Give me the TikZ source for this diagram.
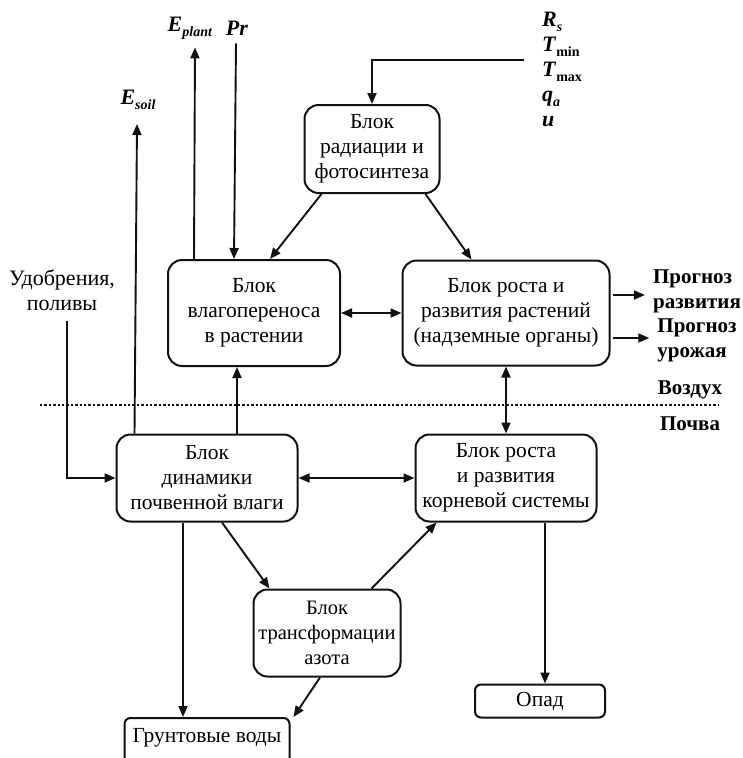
\documentclass[tikz,border=0pt]{standalone}
\usepackage{fontspec}
\setmainfont{Liberation Serif}
\usepackage{tikz}
\usetikzlibrary{arrows.meta, positioning, calc}
\definecolor{inkblack}{HTML}{111111}
\newcommand{\lowidx}[1]{\raisebox{-0.5ex}{\fontsize{14}{14}\selectfont #1}}

\begin{document}
\begin{tikzpicture}[
    x=1pt, y=-1pt,
    block/.style={rectangle, rounded corners=14pt, draw=inkblack, line width=2pt, align=center, inner sep=0pt, font=\fontsize{21.5}{25}\selectfont},
    lbl/.style={align=left, inner sep=0pt, font=\fontsize{22}{25}\selectfont\bfseries},
    arr/.style={-{Triangle[length=11pt, width=9pt]}, line width=1.9pt, draw=inkblack},
    darr/.style={{Triangle[length=11pt, width=9pt]}-{Triangle[length=11pt, width=9pt]}, line width=1.9pt, draw=inkblack}
]
\useasboundingbox (0,0) rectangle (743,758);

% Blocks
\node[block, minimum width=135, minimum height=88] (rad) at (372,149) {Блок\\радиации и\\фотосинтеза};
\node[block, minimum width=172, minimum height=106] (vlag) at (254,313) {Блок\\влагопереноса\\в растении};
\node[block, minimum width=207, minimum height=105] (rost) at (506,313) {Блок роста и\\развития растений\\(надземные органы)};
\node[block, minimum width=181, minimum height=87] (dinam) at (207,478) {Блок\\динамики\\почвенной влаги};
\node[block, minimum width=181, minimum height=87] (kor) at (506,478) {Блок роста\\и развития\\корневой системы};
\node[block, minimum width=147, minimum height=87, font=\fontsize{20.5}{25}\selectfont] (azot) at (327,633) {Блок\\трансформации\\азота};
\node[block, rounded corners=6pt, minimum width=130, minimum height=33] (opad) at (540,701) {Опад};
\node[block, rounded corners=6pt, minimum width=165, minimum height=46] (grunt) at (207,741) {};
\node[font=\fontsize{21.5}{25}\selectfont] at (207,738) {Грунтовые воды};

% Labels
\node[lbl] (inp) at (562,69) {\textit{R}\lowidx{\textit{s}}\\\textit{T}\lowidx{min}\\\textit{T}\lowidx{max}\\\textit{q}\lowidx{\textit{a}}\\\textit{u}};
\node[lbl] (eplant) at (190,28) {\textit{E}\lowidx{\textit{plant}}};
\node[lbl] (pr) at (237,28) {\textit{Pr}};
\node[lbl] (esoil) at (138,100) {\textit{E}\lowidx{\textit{soil}}};
\node[align=center, inner sep=0pt, font=\fontsize{22}{25}\selectfont] (udobr) at (62,290) {Удобрения,\\поливы};
\node[lbl, font=\fontsize{21}{25}\selectfont\bfseries] (prog1) at (697,291) {Прогноз\\развития};
\node[lbl, font=\fontsize{21}{25}\selectfont\bfseries] (prog2) at (697,340) {Прогноз\\урожая};
\node[lbl, font=\fontsize{21}{25}\selectfont\bfseries] (vozd) at (690,390) {Воздух};
\node[lbl, font=\fontsize{21}{25}\selectfont\bfseries] (pochv) at (690,424) {Почва};

% Air / soil boundary
\draw[dotted, line width=2.4pt, inkblack] (40,405) -- (718,405);

% Inputs
\coordinate (inpend) at (524,60);
\draw[arr] (inpend) -| (rad.north);
\draw[arr] ($(vlag.north west)+(27,0)$) -- ($(eplant.south)+(5,8)$);
\draw[arr] ($(pr.south)+(-1,8)$) -- ($(vlag.north west)+(67,0)$);
\draw[arr] ($(dinam.north west)+(19,0)$) -- ($(esoil.south)+(-1,14)$);
\draw[arr] ($(udobr.south)+(5,10)$) |- (dinam.west);

% Connections between blocks
\draw[arr] ($(rad.south west)+(18,0)$) -- ($(vlag.north)+(16,0)$);
\draw[arr] ($(rad.south east)+(-15,0)$) -- ($(rost.north west)+(70,0)$);
\draw[darr] (vlag.east) -- (rost.west);
\draw[arr] (dinam.north -| vlag.south) ++(-17,0) coordinate (dv) -- (dv |- vlag.south);
\draw[darr] (rost.south) -- (kor.north);
\draw[darr] (dinam.east) -- (kor.west);
\draw[arr] ($(dinam.south)+(-24,0)$) coordinate (dg) -- (dg |- grunt.north);
\draw[arr] ($(dinam.south)+(15,0)$) -- ($(azot.north west)+(17,0)$);
\draw[arr] ($(azot.north east)+(-30,0)$) -- ($(kor.south west)+(22,0)$);
\draw[arr] ($(azot.south)+(-7,0)$) -- ($(grunt.north east)+(3,0)$);
\draw[arr] ($(kor.south)+(39,0)$) coordinate (ko) -- (ko |- opad.north);

% Outputs
\draw[arr] ($(rost.east)+(2,-18)$) -- ($(prog1.west)+(-8,4)$);
\draw[arr] ($(rost.east)+(2,25)$) -- ($(prog2.west)+(-8,-2)$);

\end{tikzpicture}
\end{document}
